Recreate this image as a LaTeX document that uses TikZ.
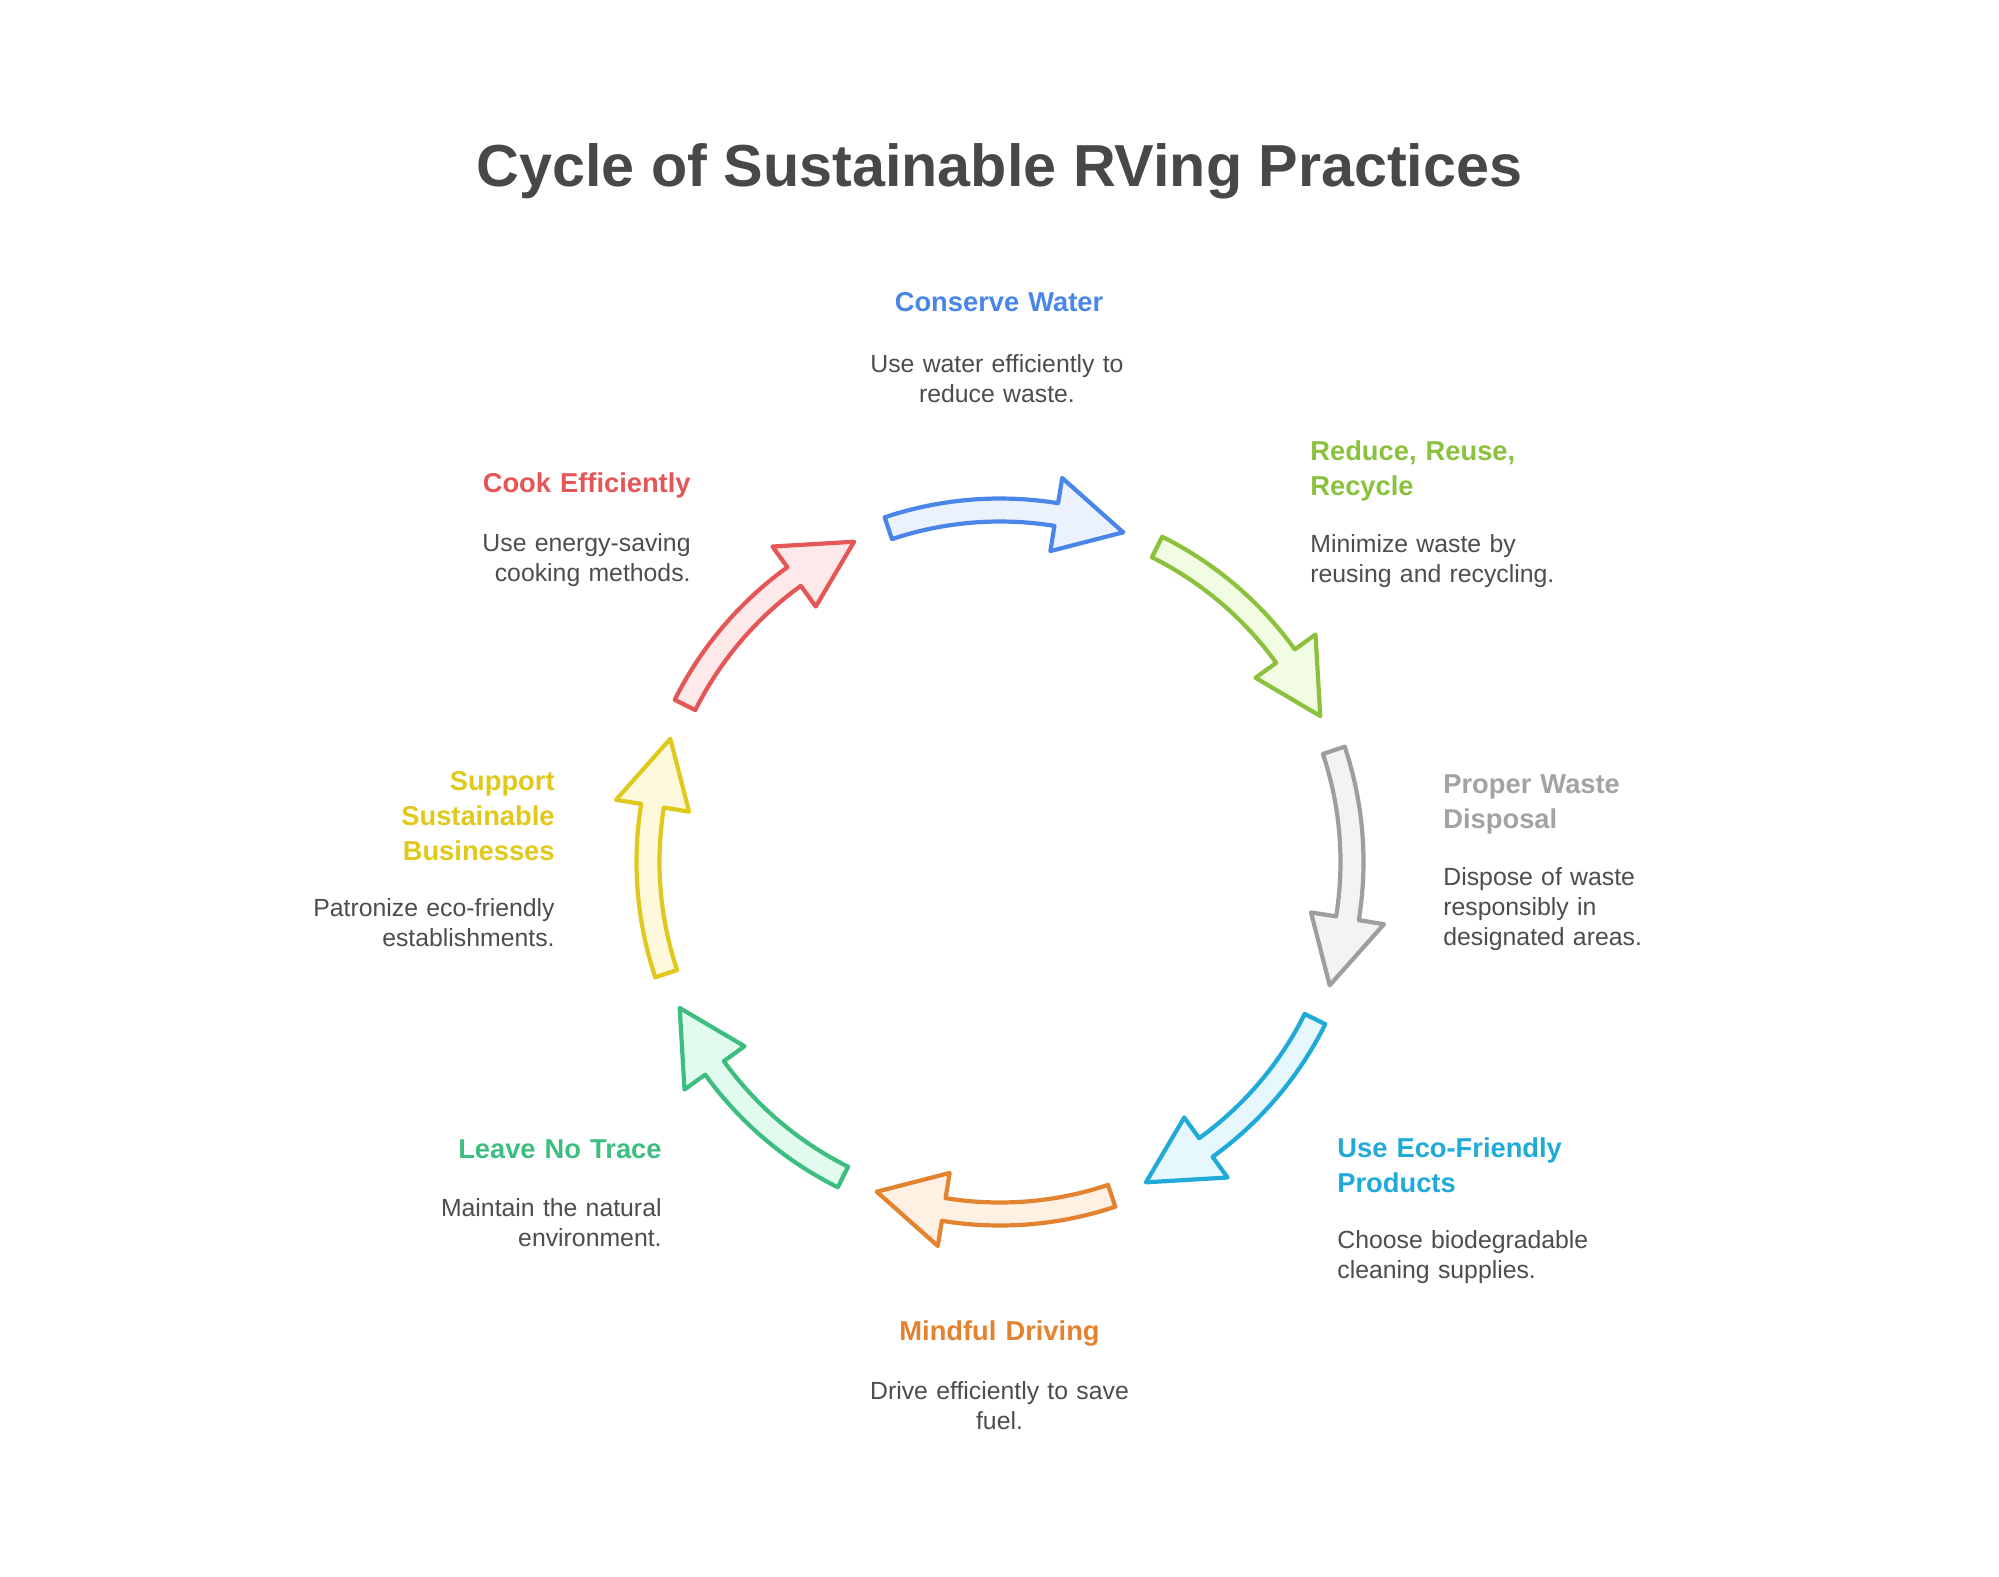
\documentclass[tikz,border=0pt]{standalone}
\usepackage{fontspec}
\setmainfont{Liberation Sans}
\definecolor{titlegray}{HTML}{484848}
\definecolor{bodygray}{HTML}{4D4D4D}
\definecolor{cblue}{HTML}{4A86E8}\definecolor{fblue}{HTML}{EBF2FE}
\definecolor{cgreen}{HTML}{8BC13D}\definecolor{fgreen}{HTML}{F2FCE2}
\definecolor{cgray}{HTML}{9E9E9E}\definecolor{fgray}{HTML}{F3F3F3}
\definecolor{hgray}{HTML}{A3A3A3}
\definecolor{ccyan}{HTML}{20AAD8}\definecolor{fcyan}{HTML}{E6F7FE}
\definecolor{corange}{HTML}{E3832F}\definecolor{forange}{HTML}{FEF0E2}
\definecolor{cteal}{HTML}{3DBE80}\definecolor{fteal}{HTML}{E2FBEF}
\definecolor{cyellow}{HTML}{E0C91C}\definecolor{fyellow}{HTML}{FEF9DD}
\definecolor{cred}{HTML}{E55656}\definecolor{fred}{HTML}{FDE9E9}
\newcommand{\cyclearrow}[3]{%
  \pgfmathsetmacro{\atail}{#1+19.5}%
  \pgfmathsetmacro{\abase}{#1-8.2}%
  \pgfmathsetmacro{\atip}{#1-19.5}%
  \draw[arrowline, draw=#2, fill=#3]
    (\atail:181.75pt) arc[start angle=\atail, end angle=\abase, radius=181.75pt]
    -- (\abase:194.5pt) -- (\atip:176pt) -- (\abase:157.5pt) -- (\abase:170.25pt)
    arc[start angle=\abase, end angle=\atail, radius=170.25pt] -- cycle;
}
\begin{document}
\begin{tikzpicture}[x=0.5pt, y=-0.5pt,
  arrowline/.style={line width=2.1pt, line join=round},
  titletext/.style={font=\fontsize{29.65}{36}\selectfont\bfseries, text=titlegray, inner sep=0pt},
  headtext/.style={font=\fontsize{13.65}{17.5}\selectfont\bfseries, inner sep=0pt, text width=200pt},
  bodytext/.style={font=\fontsize{12.4}{15}\selectfont, text=bodygray, inner sep=0pt, text width=200pt},
  lefttext/.style={anchor=base west, align=left},
  righttext/.style={anchor=base east, align=right},
  midtext/.style={anchor=base, align=center}]
\fill[white] (0,0) rectangle (1999,1576);
\useasboundingbox (0,0) rectangle (1999,1576);

\node[titletext, anchor=base] (title) at (999.5,186.7) {Cycle of Sustainable RVing Practices};

\begin{scope}[shift={(1000,862)}]
  \cyclearrow{89}{cblue}{fblue}
  \cyclearrow{44}{cgreen}{fgreen}
  \cyclearrow{-1}{cgray}{fgray}
  \cyclearrow{-46}{ccyan}{fcyan}
  \cyclearrow{-91}{corange}{forange}
  \cyclearrow{-136}{cteal}{fteal}
  \cyclearrow{179}{cyellow}{fyellow}
  \cyclearrow{134}{cred}{fred}
\end{scope}

\node[headtext, midtext, text=cblue] (h1) at (999,311.7) {Conserve Water};
\node[bodytext, midtext] (b1) at (997,372.7) {Use water efficiently to\\reduce waste.};

\node[headtext, lefttext, text=cgreen] (h2) at (1310,460) {Reduce, Reuse,\\Recycle};
\node[bodytext, lefttext] (b2) at (1310,552.7) {Minimize waste by\\reusing and recycling.};

\node[headtext, lefttext, text=hgray] (h3) at (1443,793.6) {Proper Waste\\Disposal};
\node[bodytext, lefttext] (b3) at (1443,885.5) {Dispose of waste\\responsibly in\\designated areas.};

\node[headtext, lefttext, text=ccyan] (h4) at (1337,1157) {Use Eco-Friendly\\Products};
\node[bodytext, lefttext] (b4) at (1337,1248.5) {Choose biodegradable\\cleaning supplies.};

\node[headtext, midtext, text=corange] (h5) at (999.5,1340.5) {Mindful Driving};
\node[bodytext, midtext] (b5) at (999.5,1399) {Drive efficiently to save\\fuel.};

\node[headtext, righttext, text=cteal] (h6) at (662,1158) {Leave No Trace};
\node[bodytext, righttext] (b6) at (662,1216.6) {Maintain the natural\\environment.};

\node[headtext, righttext, text=cyellow] (h7) at (555,790.7) {Support\\Sustainable\\Businesses};
\node[bodytext, righttext] (b7) at (555,916.7) {Patronize eco-friendly\\establishments.};

\node[headtext, righttext, text=cred] (h8) at (691,492.7) {Cook Efficiently};
\node[bodytext, righttext] (b8) at (691,551) {Use energy-saving\\cooking methods.};
\end{tikzpicture}
\end{document}
